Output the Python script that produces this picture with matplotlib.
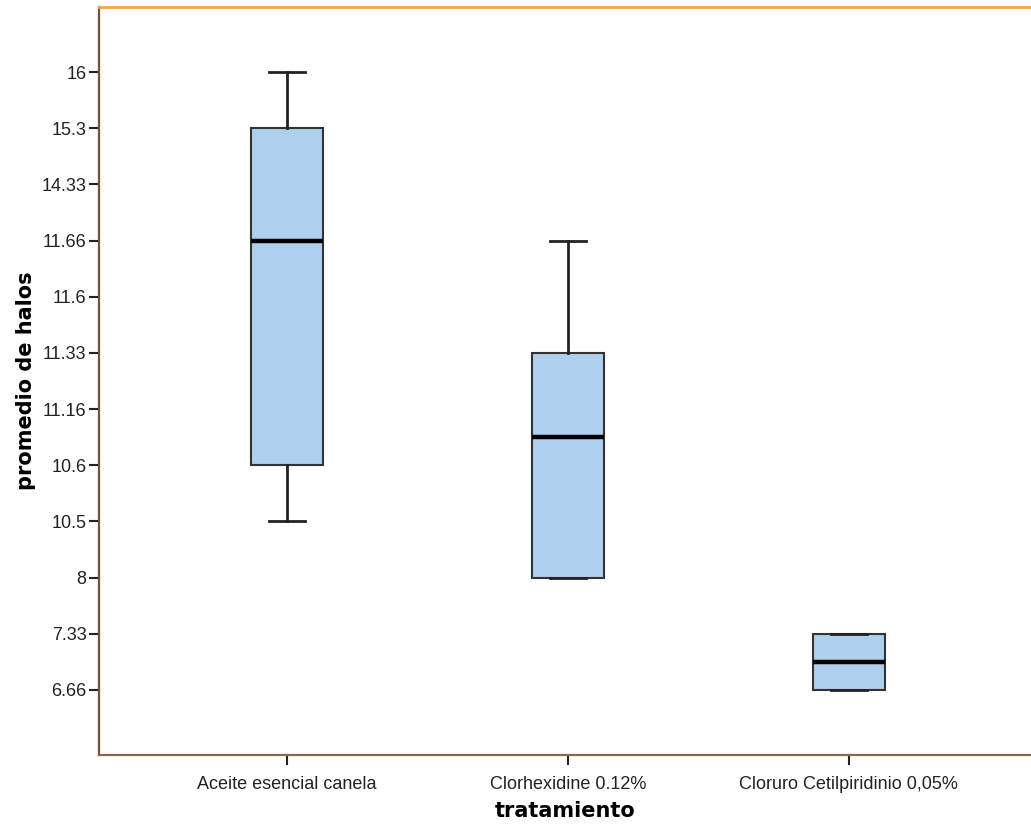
import matplotlib
matplotlib.use("Agg")
import matplotlib.pyplot as plt

# Ordinal y-axis categories (SPSS treats the values as categories, evenly spaced)
y_labels = ['6.66', '7.33', '8', '10.5', '10.6', '11.16', '11.33', '11.6', '11.66', '14.33', '15.3', '16']
categories = ['Aceite esencial canela', 'Clorhexidine 0.12%', 'Cloruro Cetilpiridinio 0,05%']

# Box statistics expressed as ordinal rank on the category axis (1 = '6.66' ... 12 = '16')
whislo = [4, 3, 1]
q1     = [5, 3, 1]
med    = [9, 5.5, 1.5]
q3     = [11, 7, 2]
whishi = [12, 9, 2]

fig = plt.figure(figsize=(10.31, 8.27), dpi=100)
ax = fig.add_axes([99/1031, 72/827, 1 - 99/1031, (755-7)/827])

stats = []
for i, c in enumerate(categories):
    stats.append(dict(label=c, whislo=whislo[i], q1=q1[i], med=med[i], q3=q3[i], whishi=whishi[i], fliers=[]))

pos = list(range(len(categories)))
ax.bxp(stats, positions=pos, widths=0.256, capwidths=0.13, patch_artist=True, showfliers=False,
       boxprops=dict(facecolor='#aecfed', edgecolor='#333333', linewidth=1.5),
       medianprops=dict(color='black', linewidth=3.2),
       whiskerprops=dict(color='#222222', linewidth=2),
       capprops=dict(color='#222222', linewidth=2))

yticks = list(range(1, len(y_labels) + 1))
ax.set_yticks(yticks)
ax.set_yticklabels(y_labels)
ax.set_xticks(pos)
ax.set_xticklabels(categories)
ax.set_ylim(-0.157, 13.157)
ax.set_xlim(-0.669, 2.648)

for lab in ax.get_xticklabels() + ax.get_yticklabels():
    lab.set_fontfamily('Liberation Sans')
    lab.set_fontsize(13)
    lab.set_color('#222222')

ax.tick_params(axis='both', length=7, width=1.5, color='#222222')
ax.tick_params(axis='y', pad=2)
ax.tick_params(axis='x', pad=8)

ax.spines['right'].set_visible(False)
ax.spines['left'].set_color('#76532f')
ax.spines['left'].set_linewidth(1.6)
ax.spines['bottom'].set_color('#8a6a45')
ax.spines['bottom'].set_linewidth(1.6)
ax.spines['top'].set_color('#f7a845')
ax.spines['top'].set_linewidth(2)

ax.set_xlabel('tratamiento', fontsize=15, fontweight='bold', family='DejaVu Sans', labelpad=6)
ax.set_ylabel('promedio de halos', fontsize=15, fontweight='bold', family='DejaVu Sans', labelpad=4)

fig.savefig('out.png', dpi=100)
